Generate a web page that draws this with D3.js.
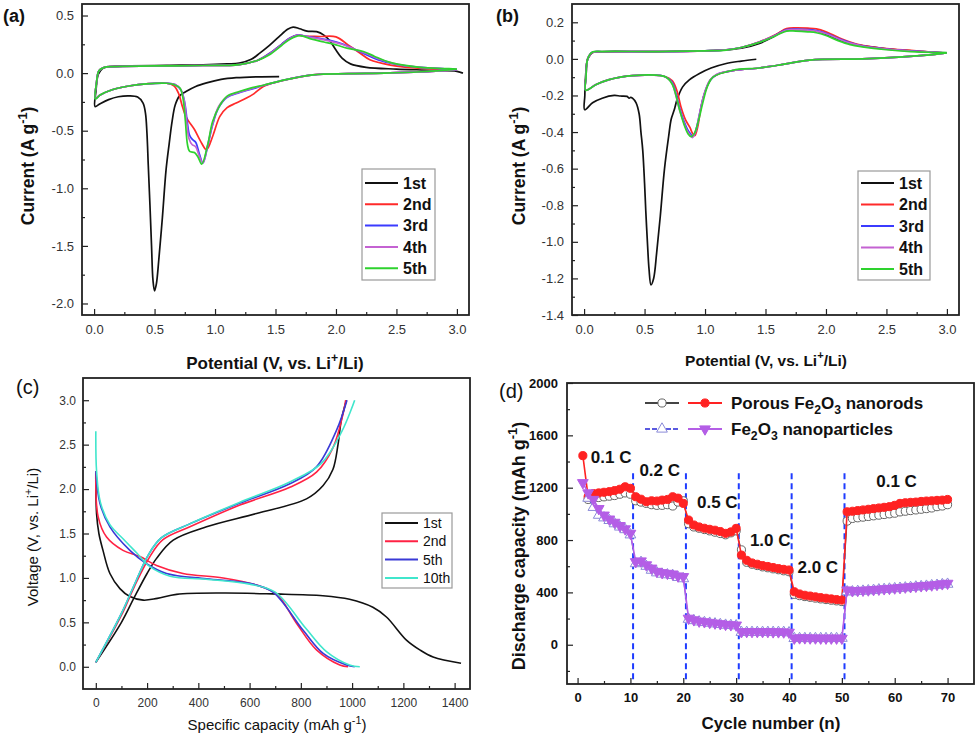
<!DOCTYPE html>
<html>
<head>
<meta charset="utf-8">
<script src="https://cdn.jsdelivr.net/npm/d3@7"></script>
<style>
  body { margin: 0; background: #fff; }
  svg text { font-family: Arial, "Liberation Sans", sans-serif; }
</style>
</head>
<body>
<script>
// ---- (a) CV curves, porous nanorods: [potential V, current A/g]
const cvA1 = [[1.53,-0.03],[1.35,-0.032],[1.175,-0.04],[1.05,-0.055],[0.93,-0.085],[0.84,-0.116],[0.76,-0.16],[0.705,-0.2],[0.67,-0.28],[0.645,-0.42],[0.62,-0.62],[0.595,-0.84],[0.565,-1.25],[0.535,-1.62],[0.515,-1.83],[0.5,-1.89],[0.487,-1.8],[0.475,-1.5],[0.462,-1.15],[0.448,-0.8],[0.437,-0.52],[0.425,-0.35],[0.405,-0.26],[0.36,-0.208],[0.29,-0.197],[0.2,-0.205],[0.12,-0.23],[0.05,-0.265],[0.008,-0.29],[0.015,-0.16],[0.035,-0.01],[0.07,0.04],[0.12,0.055],[0.3,0.062],[0.6,0.068],[0.9,0.072],[1.1,0.08],[1.2,0.087],[1.3,0.12],[1.37,0.173],[1.45,0.24],[1.53,0.317],[1.6,0.38],[1.645,0.4],[1.7,0.385],[1.76,0.365],[1.84,0.36],[1.9,0.33],[1.95,0.28],[2.0,0.2],[2.05,0.13],[2.12,0.08],[2.25,0.05],[2.5,0.035],[2.8,0.025],[3.0,0.015],[3.05,0.0]];
const cvA2 = [[3.0,0.03],[2.7,0.01],[2.4,0.0],[2.1,-0.005],[1.81,-0.015],[1.53,-0.073],[1.4,-0.116],[1.32,-0.18],[1.26,-0.217],[1.175,-0.26],[1.1,-0.3],[1.04,-0.376],[0.98,-0.55],[0.93,-0.665],[0.88,-0.59],[0.83,-0.49],[0.79,-0.43],[0.76,-0.38],[0.73,-0.29],[0.7,-0.18],[0.66,-0.11],[0.6,-0.088],[0.43,-0.093],[0.3,-0.11],[0.15,-0.145],[0.05,-0.19],[0.01,-0.22],[0.018,-0.1],[0.04,0.02],[0.08,0.048],[0.15,0.057],[0.5,0.062],[0.9,0.066],[1.2,0.074],[1.35,0.11],[1.45,0.17],[1.55,0.25],[1.62,0.305],[1.68,0.33],[1.75,0.32],[1.866,0.318],[2.0,0.315],[2.1,0.245],[2.2,0.173],[2.28,0.116],[2.45,0.07],[2.65,0.045],[2.85,0.035],[3.0,0.03]];
const cvA3 = [[3.0,0.03],[2.7,0.01],[2.4,0.0],[2.1,-0.005],[1.81,-0.015],[1.55,-0.065],[1.4,-0.108],[1.3,-0.14],[1.2,-0.17],[1.1,-0.21],[1.03,-0.3],[0.98,-0.45],[0.94,-0.63],[0.9,-0.78],[0.87,-0.7],[0.84,-0.6],[0.815,-0.578],[0.79,-0.54],[0.77,-0.42],[0.75,-0.26],[0.72,-0.15],[0.67,-0.1],[0.6,-0.088],[0.43,-0.093],[0.3,-0.11],[0.15,-0.145],[0.05,-0.19],[0.01,-0.22],[0.018,-0.1],[0.04,0.02],[0.08,0.048],[0.15,0.057],[0.5,0.062],[0.9,0.066],[1.2,0.074],[1.35,0.11],[1.45,0.17],[1.55,0.25],[1.62,0.305],[1.686,0.332],[1.75,0.32],[1.85,0.305],[1.95,0.285],[2.05,0.255],[2.15,0.21],[2.25,0.16],[2.35,0.115],[2.5,0.075],[2.7,0.05],[2.9,0.037],[3.0,0.03]];
const cvA4 = [[3.0,0.03],[2.7,0.01],[2.4,0.0],[2.1,-0.005],[1.81,-0.015],[1.55,-0.065],[1.4,-0.106],[1.3,-0.135],[1.2,-0.165],[1.1,-0.205],[1.03,-0.29],[0.98,-0.44],[0.94,-0.62],[0.9,-0.78],[0.87,-0.72],[0.84,-0.64],[0.81,-0.62],[0.785,-0.57],[0.765,-0.42],[0.745,-0.24],[0.715,-0.14],[0.67,-0.1],[0.6,-0.088],[0.43,-0.093],[0.3,-0.11],[0.15,-0.145],[0.05,-0.19],[0.01,-0.222],[0.018,-0.1],[0.04,0.02],[0.08,0.048],[0.15,0.057],[0.5,0.062],[0.9,0.066],[1.2,0.074],[1.35,0.11],[1.45,0.165],[1.55,0.245],[1.62,0.3],[1.69,0.33],[1.76,0.315],[1.85,0.3],[1.95,0.278],[2.05,0.25],[2.15,0.21],[2.25,0.17],[2.35,0.125],[2.5,0.078],[2.7,0.05],[2.9,0.038],[3.0,0.032]];
const cvA5 = [[3.0,0.035],[2.7,0.012],[2.4,0.0],[2.1,-0.005],[1.81,-0.015],[1.55,-0.065],[1.4,-0.105],[1.3,-0.128],[1.2,-0.16],[1.1,-0.2],[1.04,-0.28],[0.98,-0.42],[0.94,-0.62],[0.89,-0.79],[0.86,-0.73],[0.83,-0.69],[0.79,-0.68],[0.772,-0.62],[0.755,-0.42],[0.735,-0.22],[0.71,-0.13],[0.66,-0.1],[0.6,-0.088],[0.43,-0.093],[0.3,-0.11],[0.15,-0.145],[0.05,-0.19],[0.01,-0.225],[0.018,-0.1],[0.04,0.02],[0.08,0.048],[0.15,0.057],[0.5,0.062],[0.9,0.066],[1.2,0.074],[1.35,0.11],[1.45,0.16],[1.55,0.24],[1.62,0.295],[1.7,0.325],[1.8,0.295],[1.9,0.27],[2.0,0.245],[2.1,0.215],[2.226,0.188],[2.32,0.145],[2.4,0.11],[2.47,0.087],[2.7,0.05],[2.9,0.04],[3.0,0.035]];

// ---- (b) CV curves, nanoparticles
const cvB1 = [[1.424,-0.002],[1.3,-0.012],[1.175,-0.025],[1.05,-0.05],[0.954,-0.08],[0.87,-0.115],[0.815,-0.153],[0.77,-0.22],[0.745,-0.28],[0.72,-0.33],[0.7,-0.42],[0.665,-0.6],[0.63,-0.86],[0.6,-1.06],[0.575,-1.2],[0.553,-1.235],[0.537,-1.15],[0.525,-1.02],[0.51,-0.83],[0.5,-0.68],[0.485,-0.5],[0.47,-0.4],[0.455,-0.3],[0.43,-0.24],[0.4,-0.215],[0.385,-0.21],[0.373,-0.215],[0.355,-0.205],[0.3,-0.203],[0.249,-0.2],[0.15,-0.215],[0.07,-0.24],[0.005,-0.278],[0.006,-0.2],[0.012,-0.1],[0.03,0.0],[0.07,0.035],[0.15,0.04],[0.6,0.04],[1.1,0.046],[1.3,0.058],[1.45,0.085],[1.55,0.115],[1.65,0.155],[1.75,0.16],[1.9,0.155],[2.0,0.135],[2.1,0.105],[2.25,0.078],[2.5,0.055],[2.8,0.04],[3.0,0.033]];
const cvB2 = [[3.0,0.032],[2.9,0.025],[2.6,0.01],[2.3,0.0],[1.866,-0.007],[1.6,-0.035],[1.45,-0.05],[1.25,-0.062],[1.12,-0.08],[1.05,-0.11],[1.0,-0.18],[0.965,-0.27],[0.94,-0.37],[0.915,-0.42],[0.895,-0.405],[0.875,-0.375],[0.84,-0.335],[0.8,-0.26],[0.77,-0.18],[0.73,-0.12],[0.66,-0.095],[0.55,-0.089],[0.4,-0.091],[0.3,-0.1],[0.2,-0.115],[0.1,-0.14],[0.014,-0.171],[0.016,-0.1],[0.03,0.0],[0.069,0.035],[0.15,0.038],[0.62,0.04],[1.0,0.044],[1.175,0.05],[1.3,0.062],[1.45,0.093],[1.59,0.135],[1.674,0.166],[1.75,0.17],[1.85,0.168],[1.92,0.164],[2.0,0.148],[2.1,0.118],[2.2,0.092],[2.3,0.074],[2.5,0.056],[2.7,0.046],[2.9,0.036],[3.0,0.032]];
const cvB3 = [[3.0,0.032],[2.9,0.025],[2.6,0.01],[2.3,0.0],[1.866,-0.007],[1.6,-0.035],[1.45,-0.05],[1.25,-0.062],[1.1,-0.085],[1.04,-0.12],[0.99,-0.2],[0.955,-0.3],[0.925,-0.39],[0.9,-0.425],[0.88,-0.41],[0.855,-0.385],[0.82,-0.33],[0.79,-0.27],[0.76,-0.19],[0.725,-0.125],[0.66,-0.095],[0.55,-0.089],[0.4,-0.091],[0.3,-0.1],[0.2,-0.115],[0.1,-0.14],[0.014,-0.171],[0.016,-0.1],[0.03,0.0],[0.069,0.036],[0.15,0.039],[0.62,0.04],[1.0,0.044],[1.175,0.049],[1.3,0.062],[1.45,0.092],[1.59,0.132],[1.674,0.16],[1.75,0.163],[1.85,0.16],[1.92,0.155],[2.0,0.14],[2.1,0.112],[2.2,0.088],[2.3,0.071],[2.5,0.054],[2.7,0.044],[2.9,0.036],[3.0,0.032]];
const cvB4 = [[3.0,0.032],[2.9,0.025],[2.6,0.01],[2.3,0.0],[1.866,-0.007],[1.6,-0.035],[1.45,-0.05],[1.25,-0.062],[1.1,-0.083],[1.04,-0.117],[0.99,-0.2],[0.955,-0.3],[0.92,-0.4],[0.895,-0.43],[0.875,-0.415],[0.85,-0.39],[0.815,-0.33],[0.785,-0.27],[0.755,-0.19],[0.72,-0.125],[0.66,-0.095],[0.55,-0.089],[0.4,-0.091],[0.3,-0.1],[0.2,-0.115],[0.1,-0.14],[0.014,-0.171],[0.016,-0.1],[0.03,0.0],[0.069,0.036],[0.15,0.039],[0.62,0.04],[1.0,0.044],[1.175,0.049],[1.3,0.062],[1.45,0.092],[1.59,0.13],[1.674,0.158],[1.75,0.16],[1.85,0.157],[1.92,0.152],[2.0,0.137],[2.1,0.11],[2.2,0.086],[2.3,0.07],[2.5,0.053],[2.7,0.043],[2.9,0.036],[3.0,0.032]];
const cvB5 = [[3.0,0.033],[2.9,0.025],[2.6,0.01],[2.3,0.0],[1.866,-0.007],[1.6,-0.035],[1.45,-0.05],[1.23,-0.062],[1.065,-0.1],[1.02,-0.15],[0.98,-0.244],[0.945,-0.34],[0.91,-0.41],[0.885,-0.425],[0.86,-0.41],[0.83,-0.365],[0.79,-0.28],[0.76,-0.2],[0.73,-0.14],[0.68,-0.1],[0.6,-0.089],[0.4,-0.091],[0.3,-0.1],[0.2,-0.115],[0.1,-0.14],[0.014,-0.172],[0.016,-0.1],[0.03,0.0],[0.069,0.037],[0.15,0.04],[0.62,0.04],[1.0,0.044],[1.175,0.048],[1.3,0.062],[1.45,0.09],[1.59,0.128],[1.674,0.152],[1.75,0.152],[1.85,0.148],[1.92,0.143],[2.0,0.128],[2.1,0.1],[2.2,0.078],[2.3,0.066],[2.5,0.05],[2.7,0.04],[2.9,0.035],[3.0,0.035]];

// ---- (c) discharge / charge profiles: [capacity mAh/g, voltage V]
const dis1 = [[0,2.2],[3,1.72],[12,1.5],[28,1.31],[55,1.05],[94,0.88],[133,0.79],[185,0.75],[240,0.77],[315,0.815],[497,0.83],[690,0.82],[886,0.8],[990,0.76],[1081,0.67],[1134,0.56],[1212,0.3],[1264,0.19],[1316,0.11],[1425,0.04]];
const chg1 = [[0,0.05],[100,0.5],[150,0.78],[200,1.05],[237,1.22],[302,1.425],[432,1.575],[627,1.725],[822,1.89],[887,2.04],[925,2.22],[945,2.5],[958,2.78],[978,3.0]];
const dis2 = [[0,2.2],[9,1.69],[42,1.46],[106,1.31],[172,1.24],[237,1.14],[340,1.05],[497,1.0],[627,0.92],[705,0.82],[783,0.49],[861,0.19],[952,0.02],[984,0.0]];
const chg2 = [[0,0.05],[100,0.58],[150,0.9],[211,1.24],[262,1.43],[367,1.575],[562,1.82],[757,2.02],[861,2.19],[926,2.47],[965,2.85],[975,3.0]];
const dis5 = [[0,2.2],[16,1.84],[55,1.575],[133,1.31],[198,1.16],[276,1.05],[432,0.99],[600,0.94],[691,0.84],[809,0.41],[887,0.15],[978,0.02],[1010,0.0]];
const chg5 = [[0,0.05],[100,0.6],[150,0.92],[205,1.26],[255,1.45],[360,1.6],[560,1.84],[757,2.06],[861,2.25],[939,2.66],[980,3.0]];
const dis10 = [[0,2.65],[3,2.2],[18,1.85],[55,1.6],[110,1.43],[160,1.28],[210,1.13],[290,1.02],[430,0.985],[600,0.93],[700,0.84],[820,0.43],[900,0.17],[990,0.02],[1030,0.0]];
const chg10 = [[0,0.05],[100,0.6],[150,0.92],[205,1.26],[255,1.45],[360,1.6],[560,1.85],[757,2.08],[880,2.29],[960,2.65],[1010,3.0]];

// ---- (d) rate performance: discharge capacity per cycle
const rodsRed = [1445,1130,1155,1160,1165,1170,1178,1188,1207,1195,
  1131,1112,1093,1100,1098,1105,1110,1131,1120,1080,
  953,915,900,890,882,875,865,851,862,889,
  685,645,625,615,605,598,590,582,576,571,
  405,388,378,372,366,360,355,350,345,341,
  1016,1020,1025,1030,1035,1040,1045,1050,1055,1065,1080,1085,1088,1090,1095,1098,1100,1103,1105,1110];
const rodsBlack = [null,1110,1120,1125,1130,1135,1140,1150,1160,1150,
  1100,1090,1080,1070,1065,1065,1070,1060,1090,1100,
  925,900,890,880,870,860,850,840,855,870,
  725,630,615,605,595,588,580,573,565,558,
  385,375,368,362,356,350,345,340,335,330,
  945,965,970,975,980,985,990,995,1000,1005,1015,1020,1025,1030,1035,1040,1045,1055,1060,1070];
const partPurple = [1238,1160,1110,1040,990,960,935,910,885,851,
  634,640,610,585,560,550,545,540,525,520,
  202,190,180,175,170,165,160,155,152,150,
  99,100,100,100,100,100,98,98,97,95,
  50,52,52,51,51,50,50,50,50,49,
  418,412,414,416,418,421,424,427,430,433,436,440,443,446,450,453,456,460,465,469];
const partBlue = [null,1120,1050,990,970,950,925,900,880,840,
  620,630,600,570,550,540,535,530,515,505,
  195,185,175,170,165,160,155,150,148,145,
  95,95,95,95,95,95,95,95,95,92,
  48,48,48,48,48,48,48,48,48,50,
  405,405,408,410,413,416,420,423,426,429,432,435,438,442,445,448,452,455,460,463];
const rateBreaks = [10.5, 20.5, 30.5, 40.5, 50.5];
const rateLabels = [[2.5,1385,'0.1 C'],[11.7,1290,'0.2 C'],[22.6,1045,'0.5 C'],[32.6,755,'1.0 C'],[41.6,545,'2.0 C'],[56.5,1205,'0.1 C']];

// ticks
const cvXTicks = [0, 0.5, 1.0, 1.5, 2.0, 2.5, 3.0];
const cvAYTicks = [-2.0, -1.5, -1.0, -0.5, 0.0, 0.5];
const cvBYTicks = [-1.4, -1.2, -1.0, -0.8, -0.6, -0.4, -0.2, 0.0, 0.2];
const capXTicks = [0, 200, 400, 600, 800, 1000, 1200, 1400];
const capYTicks = [0.0, 0.5, 1.0, 1.5, 2.0, 2.5, 3.0];
const cycXTicks = [0, 10, 20, 30, 40, 50, 60, 70];
const cycYTicks = [0, 400, 800, 1200, 1600, 2000];

const cvColors = ['#111', '#ff2a2a', '#3b3bff', '#c462d2', '#2ed22e'];
const cvNames = ['1st', '2nd', '3rd', '4th', '5th'];
const capColors = ['#111', '#ff2244', '#3a3ad6', '#40e6cc'];
const capNames = ['1st', '2nd', '5th', '10th'];

const svg = d3.select('body').append('svg')
  .attr('width', 980).attr('height', 739);

// superscript / subscript text helper
function rich(sel, parts, size) {
  let shift = 0;
  parts.forEach(p => {
    const target = p.sup ? -size * 0.42 : p.sub ? size * 0.28 : 0;
    sel.append('tspan')
      .attr('dy', target - shift)
      .attr('font-size', (p.sup || p.sub) ? size * 0.72 : size)
      .text(p.t);
    shift = target;
  });
  return sel;
}

function makePanel(box, xDom, yDom) {
  const x = d3.scaleLinear().domain(xDom).range([box.l, box.r]);
  const y = d3.scaleLinear().domain(yDom).range([box.b, box.t]);
  const g = svg.append('g');
  return { x, y, g, box };
}

function drawAxes(p, o) {
  const { x, y, g, box } = p;
  const style = (ax) => {
    ax.select('.domain').remove();
    ax.selectAll('line').attr('stroke', '#222').attr('stroke-width', 1.2);
    ax.selectAll('text')
      .attr('fill', o.labelColor || '#333')
      .attr('font-size', o.tickSize)
      .attr('font-weight', o.tickWeight || 'normal')
      .attr('font-family', 'Arial, "Liberation Sans", sans-serif');
  };
  g.append('g').attr('transform', `translate(0,${box.b})`)
    .call(d3.axisBottom(x).tickValues(o.xMinor).tickSize(-3).tickFormat(''))
    .call(style);
  g.append('g').attr('transform', `translate(0,${box.b})`)
    .call(d3.axisBottom(x).tickValues(o.xTicks).tickSize(-6).tickPadding(o.xPad || 9).tickFormat(o.xFmt))
    .call(style);
  g.append('g').attr('transform', `translate(${box.l},0)`)
    .call(d3.axisLeft(y).tickValues(o.yMinor).tickSize(-3).tickFormat(''))
    .call(style);
  g.append('g').attr('transform', `translate(${box.l},0)`)
    .call(d3.axisLeft(y).tickValues(o.yTicks).tickSize(-6).tickPadding(o.yPad || 8).tickFormat(o.yFmt))
    .call(style);
}

function drawFrame(p) {
  const { g, box } = p;
  g.append('rect')
    .attr('x', box.l).attr('y', box.t)
    .attr('width', box.r - box.l).attr('height', box.b - box.t)
    .attr('fill', 'none').attr('stroke', '#222').attr('stroke-width', 1.8);
}

function curve(p, data, color, width) {
  const line = d3.line()
    .x(d => p.x(d[0])).y(d => p.y(d[1]))
    .curve(d3.curveCatmullRom.alpha(0.5));
  p.g.append('path').datum(data)
    .attr('d', line)
    .attr('fill', 'none')
    .attr('stroke', color)
    .attr('stroke-width', width || 1.7)
    .attr('stroke-linejoin', 'round');
}

function legendBox(p, box, rows, colors, o) {
  const g = p.g.append('g');
  g.append('rect').attr('x', box.x).attr('y', box.y)
    .attr('width', box.w).attr('height', box.h)
    .attr('fill', '#fff').attr('stroke', '#9a9a9a').attr('stroke-width', 1.2);
  rows.forEach((name, i) => {
    const yy = box.y + o.first + i * o.step;
    g.append('line').attr('x1', box.x + 3).attr('x2', box.x + 36)
      .attr('y1', yy).attr('y2', yy)
      .attr('stroke', colors[i]).attr('stroke-width', 2);
    g.append('text').attr('x', box.x + 41).attr('y', yy + o.size * 0.36)
      .attr('font-size', o.size).attr('font-weight', o.weight)
      .attr('fill', '#111').text(name);
  });
}

const fmt1 = v => v.toFixed(1);
const fmt0 = v => String(v);

// ===== (a)
const pa = makePanel({ l: 82, r: 469, t: 4, b: 315 }, [-0.1, 3.1], [-2.1, 0.6]);
[cvA1, cvA2, cvA3, cvA4, cvA5].forEach((d, i) => curve(pa, d, cvColors[i]));
drawAxes(pa, {
  xTicks: cvXTicks, xMinor: d3.range(0.25, 3.0, 0.5), xFmt: fmt1,
  yTicks: cvAYTicks, yMinor: d3.range(-1.75, 0.5, 0.5), yFmt: fmt1,
  tickSize: 13, xPad: 10
});
drawFrame(pa);
legendBox(pa, { x: 362, y: 169, w: 73, h: 111 }, cvNames, cvColors,
  { first: 14, step: 21.3, size: 16, weight: 'bold' });

// ===== (b)
const pb = makePanel({ l: 572, r: 959, t: 4, b: 315 }, [-0.1, 3.1], [-1.4, 0.3]);
[cvB1, cvB2, cvB3, cvB4, cvB5].forEach((d, i) => curve(pb, d, cvColors[i]));
drawAxes(pb, {
  xTicks: cvXTicks, xMinor: d3.range(0.25, 3.0, 0.5), xFmt: fmt1,
  yTicks: cvBYTicks, yMinor: d3.range(-1.3, 0.3, 0.2), yFmt: fmt1,
  tickSize: 13, xPad: 10
});
drawFrame(pb);
legendBox(pb, { x: 858, y: 171, w: 72, h: 109 }, cvNames, cvColors,
  { first: 12, step: 21.5, size: 16, weight: 'bold' });

// ===== (c)
const pc = makePanel({ l: 83, r: 470, t: 378, b: 689 }, [-50, 1460], [-0.25, 3.25]);
[[dis1, chg1], [dis2, chg2], [dis5, chg5], [dis10, chg10]].forEach((pair, i) => {
  curve(pc, pair[0], capColors[i], 1.6);
  curve(pc, pair[1], capColors[i], 1.6);
});
drawAxes(pc, {
  xTicks: capXTicks, xMinor: d3.range(100, 1400, 200), xFmt: fmt0,
  yTicks: capYTicks, yMinor: d3.range(0.25, 3.0, 0.5), yFmt: fmt1,
  tickSize: 12, xPad: 9, yPad: 7
});
drawFrame(pc);
legendBox(pc, { x: 382, y: 513, w: 70, h: 75 }, capNames, capColors,
  { first: 10, step: 18.3, size: 14, weight: 'normal' });

// ===== (d)
const pd = makePanel({ l: 567, r: 974, t: 383, b: 684 }, [-2, 75], [-300, 2000]);
const cyc = (arr) => arr.map((v, i) => [i + 1, v]).filter(d => d[1] !== null);

rateBreaks.forEach(c => {
  pd.g.append('line')
    .attr('x1', pd.x(c)).attr('x2', pd.x(c))
    .attr('y1', pd.y(1310)).attr('y2', pd.y(-300))
    .attr('stroke', '#1f3cff').attr('stroke-width', 2)
    .attr('stroke-dasharray', '6,4');
});

const symCircle = d3.symbol().type(d3.symbolCircle).size(52);
const symTri = d3.symbol().type(d3.symbolTriangle).size(50);

function series(p, pts, o) {
  const line = d3.line().x(d => p.x(d[0])).y(d => p.y(d[1]));
  p.g.append('path').datum(pts).attr('d', line)
    .attr('fill', 'none').attr('stroke', o.line).attr('stroke-width', o.lw || 1.3);
  p.g.append('g').selectAll('path').data(pts).join('path')
    .attr('d', o.sym)
    .attr('transform', d => `translate(${p.x(d[0])},${p.y(d[1])})${o.flip ? ' rotate(180)' : ''}`)
    .attr('fill', o.fill).attr('stroke', o.stroke).attr('stroke-width', 1);
}

const styleBlack = { sym: symCircle, line: '#444', fill: '#fff', stroke: '#666', lw: 1 };
const styleRed = { sym: symCircle, line: '#ff2222', fill: '#ff2222', stroke: '#ff2222', lw: 1.6 };
const styleBlue = { sym: symTri, line: '#5a5ae0', fill: '#fff', stroke: '#8a8ad8', lw: 1 };
const stylePurple = { sym: symTri, line: '#b45ee6', fill: '#b45ee6', stroke: '#b45ee6', lw: 1.6, flip: true };

series(pd, cyc(rodsBlack), styleBlack);
series(pd, cyc(rodsRed), styleRed);
series(pd, cyc(partBlue), styleBlue);
series(pd, cyc(partPurple), stylePurple);

rateLabels.forEach(r => {
  pd.g.append('text').attr('x', pd.x(r[0])).attr('y', pd.y(r[1]))
    .attr('font-size', 17).attr('font-weight', 'bold').attr('fill', '#111')
    .text(r[2]);
});

drawAxes(pd, {
  xTicks: cycXTicks, xMinor: d3.range(5, 75, 10), xFmt: fmt0,
  yTicks: cycYTicks, yMinor: d3.range(-200, 2000, 400), yFmt: fmt0,
  tickSize: 13, tickWeight: 'bold', labelColor: '#111', xPad: 9, yPad: 9
});
drawFrame(pd);

// legend (d)
function legendPair(yy, left, right, parts) {
  const g = pd.g.append('g');
  [[645, left], [688, right]].forEach(([x0, st]) => {
    g.append('line').attr('x1', x0).attr('x2', x0 + 34).attr('y1', yy).attr('y2', yy)
      .attr('stroke', st.line).attr('stroke-width', 1.8)
      .attr('stroke-dasharray', st === styleBlue ? '5,2' : null);
    g.append('path').attr('d', st.sym)
      .attr('transform', `translate(${x0 + 17},${yy})${st.flip ? ' rotate(180)' : ''}`)
      .attr('fill', st.fill).attr('stroke', st.stroke);
  });
  rich(g.append('text').attr('x', 731).attr('y', yy + 6)
    .attr('font-weight', 'bold').attr('fill', '#111'), parts, 17);
}
legendPair(403, styleBlack, styleRed,
  [{ t: 'Porous Fe' }, { t: '2', sub: true }, { t: 'O' }, { t: '3', sub: true }, { t: ' nanorods' }]);
legendPair(429, styleBlue, stylePurple,
  [{ t: 'Fe' }, { t: '2', sub: true }, { t: 'O' }, { t: '3', sub: true }, { t: ' nanoparticles' }]);

// ===== titles and panel labels
function yTitle(x, y, parts, size, weight) {
  rich(svg.append('text').attr('transform', `translate(${x},${y}) rotate(-90)`)
    .attr('text-anchor', 'middle').attr('font-weight', weight).attr('fill', '#111'), parts, size);
}
function xTitle(x, y, parts, size, weight) {
  rich(svg.append('text').attr('x', x).attr('y', y)
    .attr('text-anchor', 'middle').attr('font-weight', weight).attr('fill', '#111'), parts, size);
}
const curParts = [{ t: 'Current (A g' }, { t: '-1', sup: true }, { t: ')' }];
const potParts = [{ t: 'Potential (V, vs. Li' }, { t: '+', sup: true }, { t: '/Li)' }];

yTitle(34, 166, curParts, 17.5, 'bold');
xTitle(275, 369, potParts, 17, 'bold');
yTitle(525, 166, curParts, 17.5, 'bold');
xTitle(766, 366, potParts, 15.5, 'bold');
yTitle(38, 537, [{ t: 'Voltage (V, vs. Li' }, { t: '+', sup: true }, { t: '/Li)' }], 15, 'normal');
xTitle(277, 730, [{ t: 'Specific capacity (mAh g' }, { t: '-1', sup: true }, { t: ')' }], 15, 'normal');
yTitle(525, 546, [{ t: 'Discharge capacity (mAh g' }, { t: '-1', sup: true }, { t: ')' }], 18, 'bold');
xTitle(771, 729, [{ t: 'Cycle number (n)' }], 17, 'bold');

[['(a)', 3, 22, 'bold', 18], ['(b)', 496, 22, 'bold', 18],
 ['(c)', 16, 394, 'normal', 20], ['(d)', 499, 398, 'normal', 20]].forEach(l => {
  svg.append('text').attr('x', l[1]).attr('y', l[2])
    .attr('font-weight', l[3]).attr('font-size', l[4]).attr('fill', '#111').text(l[0]);
});
</script>
</body>
</html>
